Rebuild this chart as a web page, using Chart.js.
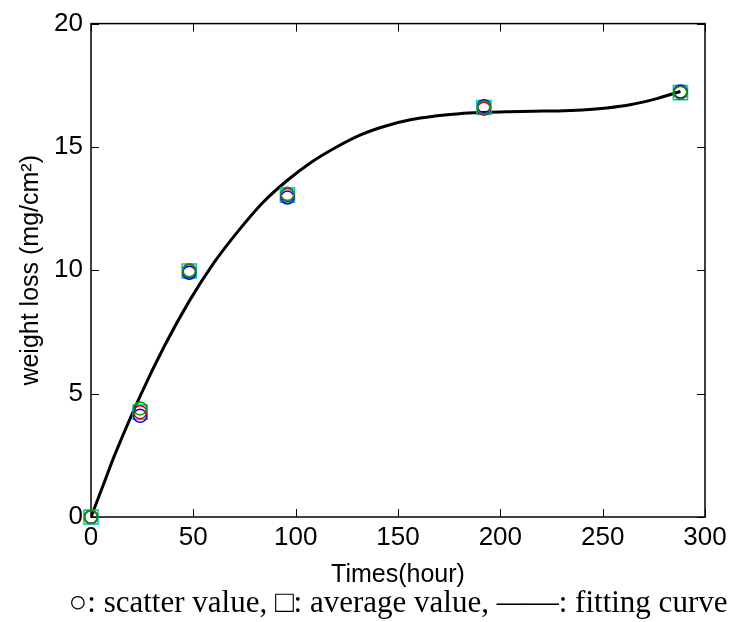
<!DOCTYPE html>
<html>
<head>
<meta charset="utf-8">
<script src="https://cdn.jsdelivr.net/npm/chart.js@4"></script>
<style>
  html, body { margin: 0; padding: 0; background: #fff; }
  #wrap { width: 749px; height: 622px; }
</style>
</head>
<body>
<div id="wrap"><canvas id="lossChart" width="749" height="622"></canvas></div>
<script>
// Measured times (hours) and weight loss (mg/cm2)
const times = [0, 24, 48, 96, 192, 288];
const scatterRed = [0, 4.25, 9.97, 13.05, 16.55, 17.2];
const scatterBlue = [0, 4.1, 9.9, 12.95, 16.65, 17.25];
const scatterGreen = [0, 4.4, 10.0, 13.1, 16.6, 17.2];
const averageValue = [0, 4.25, 9.97, 13.05, 16.6, 17.2];

// Fitting curve
const curveTimes = [0, 6, 12, 24, 36, 48, 60, 72, 84, 96, 108, 120, 132, 144, 156, 168, 180, 192, 204, 216, 228, 240, 252, 264, 276, 288];
const curveValues = [0, 1.3, 2.6, 4.9, 6.95, 8.75, 10.3, 11.6, 12.75, 13.65, 14.4, 15.0, 15.5, 15.85, 16.1, 16.25, 16.35, 16.4, 16.43, 16.45, 16.46, 16.5, 16.58, 16.72, 16.95, 17.25];

const xTicks = [0, 50, 100, 150, 200, 250, 300];
const yTicks = [0, 5, 10, 15, 20];
const caption = '\u25CB: scatter value, \u25A1: average value, \u2014\u2014: fitting curve';

const toPoints = (xs, ys) => xs.map((x, i) => ({ x: x, y: ys[i] }));

// Box around the plot with inward ticks on all four sides
const boxTicks = {
    id: 'boxTicks',
    beforeDatasetsDraw(chart) {
        const { ctx, chartArea: a, scales } = chart;
        const len = 8;
        ctx.save();
        ctx.strokeStyle = '#000';
        ctx.lineWidth = 1.5;
        ctx.strokeRect(a.left, a.top, a.right - a.left, a.bottom - a.top);
        ctx.lineWidth = 1;
        ctx.beginPath();
        xTicks.forEach(v => {
            const px = Math.round(scales.x.getPixelForValue(v)) + 0.5;
            ctx.moveTo(px, a.bottom); ctx.lineTo(px, a.bottom - len);
            ctx.moveTo(px, a.top); ctx.lineTo(px, a.top + len);
        });
        yTicks.forEach(v => {
            const py = Math.round(scales.y.getPixelForValue(v)) + 0.5;
            ctx.moveTo(a.left, py); ctx.lineTo(a.left + len, py);
            ctx.moveTo(a.right, py); ctx.lineTo(a.right - len, py);
        });
        ctx.stroke();
        ctx.restore();
    },
    // caption under the axis title, centred on the plot
    afterDraw(chart) {
        const { ctx, chartArea: a } = chart;
        ctx.save();
        ctx.fillStyle = '#000';
        ctx.font = '31px "Liberation Serif"';
        ctx.textAlign = 'center';
        ctx.textBaseline = 'middle';
        ctx.fillText(caption, (a.left + a.right) / 2, 604);
        ctx.restore();
    }
};

const circleSet = (label, data, color) => ({
    label: label,
    data: toPoints(times, data),
    showLine: false,
    pointStyle: 'circle',
    pointRadius: 6.5,
    pointBorderWidth: 1.5,
    borderColor: color,
    backgroundColor: 'rgba(0,0,0,0)',
    clip: false,
    order: 1
});

const ctx = document.getElementById('lossChart').getContext('2d');
new Chart(ctx, {
    type: 'scatter',
    data: {
        datasets: [
            circleSet('scatter 1', scatterGreen, '#00a000'),
            circleSet('scatter 2', scatterRed, '#e00000'),
            circleSet('scatter 3', scatterBlue, '#0000ff'),
            {
                label: 'average value',
                data: toPoints(times, averageValue),
                showLine: false,
                pointStyle: 'rect',
                pointRadius: 10,
                pointBorderWidth: 1.5,
                borderColor: '#00c0c0',
                backgroundColor: 'rgba(0,0,0,0)',
                clip: false,
                order: 2
            },
            {
                label: 'fitting curve',
                data: toPoints(curveTimes, curveValues),
                showLine: true,
                borderColor: '#000',
                borderWidth: 3,
                pointRadius: 0,
                tension: 0.35,
                order: 3
            }
        ]
    },
    options: {
        responsive: false,
        animation: false,
        layout: { padding: { left: 0, top: 22, right: 44, bottom: 0 } },
        plugins: {
            legend: { display: false },
            tooltip: { enabled: false }
        },
        scales: {
            x: {
                type: 'linear',
                min: 0, max: 300,
                afterFit(scale) { scale.height = 105; },
                afterBuildTicks(scale) { scale.ticks = xTicks.map(v => ({ value: v })); },
                grid: { display: false, drawTicks: false },
                border: { display: false },
                ticks: {
                    color: '#000', padding: 5, maxRotation: 0,
                    font: { family: 'Liberation Sans', size: 26 }
                },
                title: {
                    display: true, text: 'Times(hour)', color: '#000',
                    font: { family: 'Liberation Sans', size: 25 },
                    padding: { top: 0, bottom: 32 }
                }
            },
            y: {
                min: 0, max: 20,
                afterFit(scale) { scale.width = 91; },
                afterBuildTicks(scale) { scale.ticks = yTicks.map(v => ({ value: v })); },
                grid: { display: false, drawTicks: false },
                border: { display: false },
                ticks: {
                    color: '#000', padding: 8,
                    font: { family: 'Liberation Sans', size: 26 }
                },
                title: {
                    display: true, text: 'weight loss (mg/cm\u00B2)', color: '#000',
                    font: { family: 'Liberation Sans', size: 25 },
                    padding: { top: 16, bottom: 0 }
                }
            }
        }
    },
    plugins: [boxTicks]
});
</script>
</body>
</html>
